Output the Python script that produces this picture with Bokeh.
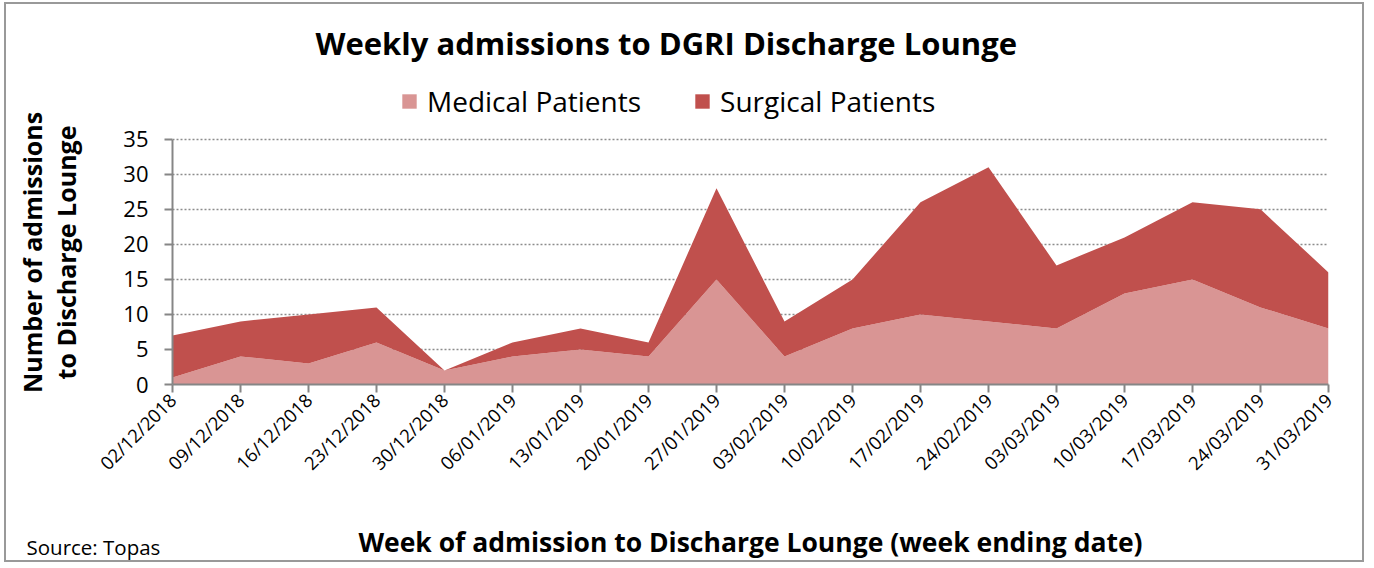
import math
from bokeh.plotting import figure
from bokeh.models import ColumnDataSource, Range1d, FixedTicker, Legend, LegendItem, Title
from bokeh.embed import file_html
from bokeh.resources import INLINE

weeks = ["02/12/2018", "09/12/2018", "16/12/2018", "23/12/2018", "30/12/2018",
         "06/01/2019", "13/01/2019", "20/01/2019", "27/01/2019", "03/02/2019",
         "10/02/2019", "17/02/2019", "24/02/2019", "03/03/2019", "10/03/2019",
         "17/03/2019", "24/03/2019", "31/03/2019"]
medical = [1, 4, 3, 6, 2, 4, 5, 4, 15, 4, 8, 10, 9, 8, 13, 15, 11, 8]
surgical = [6, 5, 7, 5, 0, 2, 3, 2, 13, 5, 7, 16, 22, 9, 8, 11, 14, 8]
y_ticks = [0, 5, 10, 15, 20, 25, 30, 35]

FONT = "Open Sans"
MED_C = "#D99594"
SUR_C = "#C0504D"
AX_C = "#868686"

xs = list(range(len(weeks)))
src = ColumnDataSource(dict(x=xs, med=medical, sur=surgical))

# frame extends above the 35 line so that the legend can sit inside it
p = figure(width=1360, height=560, output_backend="svg", toolbar_location=None,
           x_range=Range1d(0, len(weeks) - 1), y_range=Range1d(0, 43.25),
           min_border_left=166, min_border_right=38, min_border_top=76,
           min_border_bottom=180)
p.outline_line_color = None
p.styles = {"border": "2px solid #999999", "margin-left": "4px", "margin-top": "2px"}

rs = p.varea_stack(["med", "sur"], x="x", color=[MED_C, SUR_C], source=src)

# axes
p.xaxis.ticker = FixedTicker(ticks=xs)
p.xaxis.major_label_overrides = {i: w for i, w in enumerate(weeks)}
p.xaxis.major_label_orientation = math.pi / 4
p.yaxis.ticker = FixedTicker(ticks=y_ticks)
p.yaxis.bounds = (0, 35)
for ax in (p.xaxis, p.yaxis):
    ax.axis_line_color = AX_C
    ax.axis_line_width = 2
    ax.major_tick_line_color = AX_C
    ax.major_tick_line_width = 2
    ax.major_tick_out = 8
    ax.major_tick_in = 0
    ax.minor_tick_line_color = None
    ax.major_label_text_font = FONT
    ax.major_label_text_color = "black"
    ax.axis_label_text_font = FONT
    ax.axis_label_text_font_style = "bold"
    ax.axis_label_text_color = "black"
p.yaxis.major_label_text_font_size = "22px"
p.yaxis.major_label_standoff = 16
p.xaxis.major_label_text_font_size = "18.5px"
p.xaxis.major_label_standoff = 4

p.xgrid.grid_line_color = None
p.ygrid.grid_line_color = "#8c8c8c"
p.ygrid.grid_line_dash = "2 2"
p.ygrid.grid_line_width = 1.5

# y axis title (two lines); trailing no-break spaces lower the block to sit
# centred on the 0-35 axis rather than on the taller frame
pad = "\u00a0" * 6
p.yaxis.axis_label = "Number of admissions" + pad + "\nto Discharge Lounge" + pad
p.yaxis.axis_label_text_font_size = "25px"
p.yaxis.axis_label_text_line_height = 1.0
p.yaxis.axis_label_standoff = 37

# x axis title
p.xaxis.axis_label = "Week of admission to Discharge Lounge (week ending date)"
p.xaxis.axis_label_text_font_size = "26.5px"
p.xaxis.axis_label_standoff = 37

# source note, pulled up into the axis-title row
p.add_layout(Title(text="Source: Topas", text_font=FONT, text_font_style="normal",
                   text_color="black", text_font_size="20.5px", align="left",
                   vertical_align="top", offset=-146, standoff=-60), "below")

# legend inside the (extended) frame, above the 35 gridline
legend = Legend(items=[LegendItem(label="Medical Patients", renderers=[rs[0]]),
                       LegendItem(label="Surgical Patients", renderers=[rs[1]])],
                orientation="horizontal", location=(228, 264),
                label_text_font=FONT, label_text_font_size="28px", label_text_color="black",
                glyph_width=18, glyph_height=18, label_standoff=9, spacing=52,
                padding=0, margin=0, border_line_color=None,
                background_fill_alpha=0)
p.add_layout(legend, "center")

# title
p.add_layout(Title(text="Weekly admissions to DGRI Discharge Lounge", text_font=FONT,
                   text_color="black", text_font_style="bold", text_font_size="31px",
                   align="left", offset=143, vertical_align="middle", standoff=33), "above")

open("out.html", "w").write(file_html(p, INLINE))
